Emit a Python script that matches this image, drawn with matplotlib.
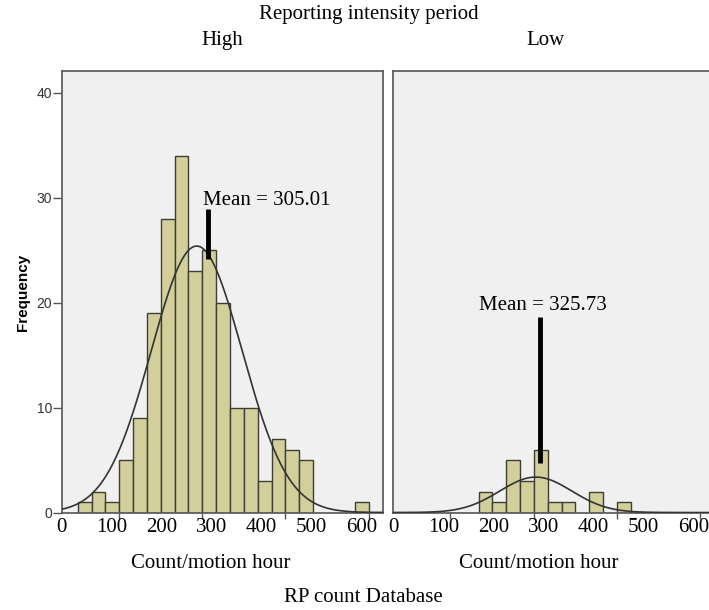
import numpy as np
import matplotlib
matplotlib.use("Agg")
from matplotlib import pyplot as plt

# histogram data
bin_start = 32.0
bin_width = 27.7
high_counts = [1, 2, 1, 5, 9, 19, 28, 34, 23, 25, 20, 10, 10, 3, 7, 6, 5, 0, 0, 0, 1]
low_counts = [0, 0, 0, 0, 0, 2, 1, 5, 3, 6, 1, 1, 0, 2, 0, 1]

# fitted normal curves (centre / spread as drawn)
high_curve = (270.0, 91.0)
low_curve = (285.0, 72.0)

# mean markers: label, x, line bottom, line top, text x, text y, alignment
high_mean = ("Mean = 305.01", 292, 24.1, 28.9, 282, 29.3, "left")
low_mean = ("Mean = 325.73", 293, 4.7, 18.6, 299, 19.3, "center")

x_labels = [0, 100, 200, 300, 400, 500, 600]
y_ticks = [0, 10, 20, 30, 40]

serif = "Liberation Serif"
sans = "Liberation Sans"
bar_color = "#d3cf9b"
edge_color = "#3e3e36"
panel_bg = "#f0f0f0"
spine_color = "#555555"


def draw_panel(ax, counts, curve, mean, show_y):
    counts = np.array(counts)
    edges = bin_start + bin_width * np.arange(len(counts))
    keep = counts > 0
    ax.bar(edges[keep], counts[keep], width=bin_width, align="edge",
           color=bar_color, edgecolor=edge_color, linewidth=1.0, zorder=2)

    mu, sd = curve
    xs = np.linspace(0, 650, 400)
    ys = counts.sum() * bin_width / (sd * np.sqrt(2 * np.pi)) * np.exp(-0.5 * ((xs - mu) / sd) ** 2)
    ax.plot(xs, ys, color="#333333", linewidth=1.2, zorder=3)

    label, mx, y0, y1, tx, ty, ha = mean
    ax.plot([mx, mx], [y0, y1], color="black", linewidth=3.5, solid_capstyle="butt", zorder=4)
    ax.text(tx, ty, label, ha=ha, va="baseline", family=serif, fontsize=15, zorder=5)

    ax.set_xlim(0, 642.6)
    ax.set_ylim(0, 42.05)
    ax.set_facecolor(panel_bg)
    for sp in ax.spines.values():
        sp.set_color(spine_color)
        sp.set_linewidth(1.2)

    # tick marks sit where the package put them, labels where the text was written
    ax.set_xticks(114 + 166.7 * np.arange(4))
    ax.set_xticklabels([])
    ax.tick_params(axis="x", which="major", direction="out", length=4, width=1, color=spine_color)
    ax.set_xticks(x_labels, [str(v) for v in x_labels], minor=True)
    ax.tick_params(axis="x", which="minor", length=0, pad=4, labelsize=15)
    for t in ax.get_xticklabels(minor=True):
        t.set_family(serif)

    if show_y:
        ax.set_yticks(y_ticks)
        ax.tick_params(axis="y", direction="out", length=6.5, width=1, color=spine_color,
                       labelsize=10, labelcolor="#333333", pad=0.5)
        for t in ax.get_yticklabels():
            t.set_family(sans)
    else:
        ax.set_yticks([])


fig = plt.figure(figsize=(7.09, 6.10), dpi=100)
ax_high = fig.add_axes([0.0870, 0.1598, 0.4532, 0.7238])
ax_low = fig.add_axes([0.5547, 0.1598, 0.4532, 0.7238])

draw_panel(ax_high, high_counts, high_curve, high_mean, True)
draw_panel(ax_low, low_counts, low_curve, low_mean, False)

fig.text(0.5205, 0.977, "Reporting intensity period", ha="center", va="center", family=serif, fontsize=15)
fig.text(0.313, 0.933, "High", ha="center", va="center", family=serif, fontsize=15)
fig.text(0.770, 0.933, "Low", ha="center", va="center", family=serif, fontsize=15)
fig.text(0.2976, 0.077, "Count/motion hour", ha="center", va="center", family=serif, fontsize=15)
fig.text(0.760, 0.077, "Count/motion hour", ha="center", va="center", family=serif, fontsize=15)
fig.text(0.512, 0.0213, "RP count Database", ha="center", va="center", family=serif, fontsize=15)
fig.text(0.0324, 0.52, "Frequency", ha="center", va="center", rotation=90,
         family=sans, fontweight="bold", fontsize=11)

fig.savefig("out.png", dpi=100)
